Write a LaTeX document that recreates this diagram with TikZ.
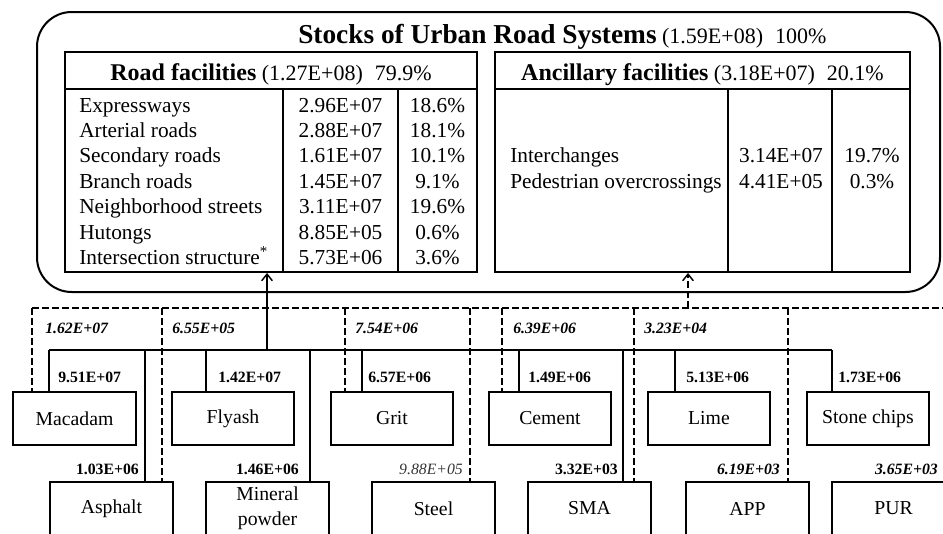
\documentclass[tikz,border=0pt]{standalone}
\usepackage{fontspec}
\setmainfont{Liberation Serif}
\usetikzlibrary{arrows.meta,fit}
\begin{document}
\begin{tikzpicture}[x=0.75pt,y=-0.75pt,
  outerbox/.style={draw,line width=1.5pt,rounded corners=26pt,inner sep=0pt},
  tablebox/.style={draw,line width=1.4pt,inner sep=0pt},
  tline/.style={line width=1.1pt},
  matbox/.style={draw,line width=1.4pt,minimum width=92pt,minimum height=39.75pt,
    inner sep=0pt,align=center,font=\fontsize{14.8}{18.5}\selectfont},
  rowtxt/.style={anchor=base west,inner sep=0pt,font=\fontsize{16}{19}\selectfont},
  numtxt/.style={anchor=base,inner sep=0pt,font=\fontsize{16}{19}\selectfont},
  vlab/.style={inner sep=0pt,font=\fontsize{11.8}{14}\selectfont\bfseries},
  dlab/.style={inner sep=0pt,font=\fontsize{11.8}{14}\selectfont\bfseries\itshape},
  solidlink/.style={line width=1.1pt},
  dashlink/.style={line width=1.1pt,dash pattern=on 5pt off 2.5pt},
  uparrow/.style={-{Straight Barb[length=5pt,width=8pt,line width=1.1pt]}}
]
\useasboundingbox (0,0) rectangle (943,533);
\clip (0,0) rectangle (943,533);

% ---- stocks frame and title
\node[outerbox,fit={(37,12) (940,292)}] (stocks) {};
\node[anchor=base west,inner sep=0pt] (title) at (298,43)
  {\fontsize{20.5}{24}\selectfont\bfseries Stocks of Urban Road Systems\fontsize{16.5}{19}\selectfont\mdseries\ (1.59E+08)\hspace{9pt}100\%};

% ---- road facilities table
\node[tablebox,fit={(65,52) (477,272)}] (road) {};
\draw[tline] (65,89) -- (477,89);
\draw[tline] (283,89) -- (283,272);
\draw[tline] (398,89) -- (398,272);
\node[anchor=base,inner sep=0pt] (roadhead) at (271,80)
  {\fontsize{18}{21}\selectfont\bfseries Road facilities\fontsize{16.5}{19}\selectfont\mdseries\ (1.27E+08)\hspace{9pt}79.9\%};
\foreach \name/\val/\pct [count=\i from 0] in {
  Expressways/2.96E+07/18.6\%,
  Arterial roads/2.88E+07/18.1\%,
  Secondary roads/1.61E+07/10.1\%,
  Branch roads/1.45E+07/9.1\%,
  Neighborhood streets/3.11E+07/19.6\%,
  Hutongs/8.85E+05/0.6\%,
  Intersection structure\textsuperscript{*}/5.73E+06/3.6\%}{
  \node[rowtxt] (rn\i) at (79,112+25.4*\i) {\name};
  \node[numtxt] (rv\i) at (340.5,112+25.4*\i) {\val};
  \node[numtxt] (rp\i) at (437.5,112+25.4*\i) {\pct};
}

% ---- ancillary facilities table
\node[tablebox,fit={(495,52) (910,272)}] (anc) {};
\draw[tline] (495,89) -- (910,89);
\draw[tline] (728,89) -- (728,272);
\draw[tline] (832,89) -- (832,272);
\node[anchor=base,inner sep=0pt] (anchead) at (702.5,80)
  {\fontsize{18}{21}\selectfont\bfseries Ancillary facilities\fontsize{16.5}{19}\selectfont\mdseries\ (3.18E+07)\hspace{9pt}20.1\%};
\node[rowtxt] (an0) at (510,162.8) {Interchanges};
\node[numtxt] (av0) at (781,162.8) {3.14E+07};
\node[numtxt] (ap0) at (872,162.8) {19.7\%};
\node[rowtxt] (an1) at (510,188.2) {Pedestrian overcrossings};
\node[numtxt] (av1) at (781,188.2) {4.41E+05};
\node[numtxt] (ap1) at (872,188.2) {0.3\%};

% ---- material boxes
\node[matbox] (macadam) at (74.5,418.5) {Macadam};
\node[matbox] (flyash)  at (233,418.5)  {Flyash};
\node[matbox] (grit)    at (392,418.5)  {Grit};
\node[matbox] (cement)  at (550,418.5)  {Cement};
\node[matbox] (lime)    at (709,418.5)  {Lime};
\node[matbox] (stone)   at (868,418.5)  {Stone chips};
\node[matbox] (asphalt) at (111.5,508.5) {Asphalt};
\node[matbox] (mineral) at (267.5,508.5) {Mineral\\powder};
\node[matbox] (steel)   at (433.5,508.5) {Steel};
\node[matbox] (sma)     at (589.5,508.5) {SMA};
\node[matbox] (app)     at (747.5,508.5) {APP};
\node[matbox] (pur)     at (893.5,508.5) {PUR};

% ---- solid bus into road facilities
\coordinate (sL) at (49,350);
\coordinate (sR) at (832,350);
\coordinate (sUp) at (267,350);
\draw[solidlink] (sL) -- (sR);
\draw[solidlink,uparrow] (sUp) -- (sUp |- road.south);
\foreach \x/\target in {49/macadam,145/asphalt,206/flyash,310/mineral,362/grit,
                        519/cement,623/sma,675/lime,832/stone}{
  \coordinate (s-\target) at (\x,350);
  \draw[solidlink] (s-\target) -- (s-\target |- \target.north);
}

% ---- dashed bus into ancillary facilities
\coordinate (dL) at (32,308);
\coordinate (dR) at (950,308);
\coordinate (dUp) at (688,308);
\draw[dashlink] (dL) -- (dR);
\draw[dashlink,uparrow] (dUp) -- (dUp |- anc.south);
\foreach \x/\target in {32/macadam,162/asphalt,345/grit,470/steel,
                        502/cement,634/sma,788/app}{
  \coordinate (d-\target) at (\x,308);
  \draw[dashlink] (d-\target) -- (d-\target |- \target.north);
}

% ---- flow values on the dashed branches
\node[dlab,anchor=base west] (l1) at (45,333)  {1.62E+07};
\node[dlab,anchor=base west] (l2) at (172,333) {6.55E+05};
\node[dlab,anchor=base west] (l3) at (355,333) {7.54E+06};
\node[dlab,anchor=base west] (l4) at (513,333) {6.39E+06};
\node[dlab,anchor=base west] (l5) at (644,333) {3.23E+04};

% ---- flow values on the solid branches (upper row)
\node[vlab,anchor=base west] (m1) at (58,382)  {9.51E+07};
\node[vlab,anchor=base west] (m2) at (218,382) {1.42E+07};
\node[vlab,anchor=base west] (m3) at (368,382) {6.57E+06};
\node[vlab,anchor=base west] (m4) at (528,382) {1.49E+06};
\node[vlab,anchor=base west] (m5) at (686,382) {5.13E+06};
\node[vlab,anchor=base west] (m6) at (838,382) {1.73E+06};

% ---- flow values above the lower row
\node[vlab,anchor=base east] (b1) at (139,474) {1.03E+06};
\node[vlab,anchor=base east] (b2) at (299,474) {1.46E+06};
\node[inner sep=0pt,anchor=base east,font=\fontsize{11.8}{14}\selectfont\itshape,text=black!80] (b3) at (463,474) {9.88E+05};
\node[vlab,anchor=base east] (b4) at (618,474) {3.32E+03};
\node[dlab,anchor=base east] (b5) at (780,474) {6.19E+03};
\node[dlab,anchor=base east] (b6) at (938,474) {3.65E+03};
\end{tikzpicture}
\end{document}
